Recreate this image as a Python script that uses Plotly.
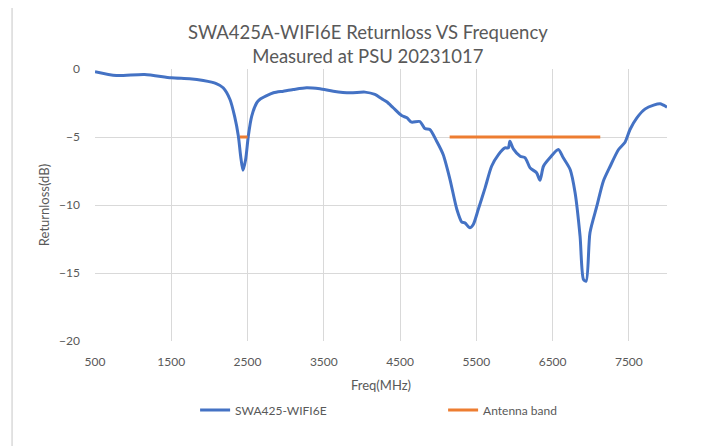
import plotly.graph_objects as go

# Datos
freq_mhz = [500, 780, 1150, 1500, 1740, 1920, 2090, 2180, 2270, 2330,
            2380, 2410, 2440, 2475, 2510, 2555, 2620, 2660, 2840, 2970,
            3100, 3275, 3450, 3625, 3845, 4040, 4170, 4260, 4325, 4410,
            4520, 4590, 4650, 4760, 4825, 4890, 4980, 5065, 5155, 5245,
            5310, 5350, 5415, 5460, 5525, 5615, 5700, 5790, 5875, 5920,
            5940, 5985, 6075, 6140, 6205, 6290, 6335, 6380, 6465, 6575,
            6640, 6730, 6795, 6860, 6905, 6940, 6990, 7080, 7165, 7255,
            7365, 7450, 7515, 7605, 7715, 7825, 7910, 8000]
returnloss_db = [-0.2, -0.48, -0.4, -0.65, -0.72, -0.85, -1.07, -1.38, -2.24, -3.47,
                 -4.94, -6.41, -7.44, -6.65, -4.94, -3.47, -2.49, -2.24, -1.75, -1.63,
                 -1.51, -1.38, -1.46, -1.63, -1.75, -1.70, -1.87, -2.19, -2.41, -2.85,
                 -3.42, -3.59, -3.91, -3.86, -4.38, -4.45, -5.31, -6.29, -8.13, -10.33,
                 -11.26, -11.31, -11.68, -11.43, -10.33, -8.74, -7.15, -6.29, -5.80, -5.80,
                 -5.31, -5.87, -6.41, -6.53, -7.27, -7.63, -8.18, -7.15, -6.53, -5.92,
                 -6.53, -7.39, -9.10, -12.29, -15.48, -15.60, -12.04, -10.09, -8.25, -7.15,
                 -5.92, -5.38, -4.45, -3.59, -2.93, -2.66, -2.56, -2.81]

band_freq = [2400, 2500, None, 5150, 7125]
band_db = [-5, -5, None, -5, -5]

x_ticks = [500, 1500, 2500, 3500, 4500, 5500, 6500, 7500]
y_ticks = [0, -5, -10, -15, -20]

FONT = "Lato"
GRIS = "#595959"
GRID = "#d9d9d9"

fig = go.Figure()
fig.add_trace(go.Scatter(
    x=freq_mhz, y=returnloss_db, mode="lines", name="SWA425-WIFI6E",
    line=dict(color="#4472c4", width=3, shape="spline", smoothing=0.7)))
fig.add_trace(go.Scatter(
    x=band_freq, y=band_db, mode="lines", name="Antenna band",
    line=dict(color="#ed7d31", width=3)))

# la pagina tiene 8px de margen en el body: se compensa en l y t
fig.update_layout(
    template="none",
    width=714, height=446,
    margin=dict(l=87, r=55, t=61, b=113, autoexpand=False),
    paper_bgcolor="white", plot_bgcolor="white",
    font=dict(family=FONT, color=GRIS, size=12),
    title=dict(text="SWA425A-WIFI6E Returnloss VS Frequency<br>Measured at PSU 20231017",
               x=0.477, xref="paper", xanchor="center", y=0.93, yanchor="top",
               font=dict(family=FONT, size=18.5, color=GRIS)),
    showlegend=True,
    legend=dict(orientation="h", x=0.175, xanchor="left", y=-0.254, yanchor="middle",
                entrywidth=203, bgcolor="rgba(0,0,0,0)", font=dict(size=12, color=GRIS)),
    shapes=[
        dict(type="line", xref="paper", yref="paper", x0=-0.145, x1=-0.145, y0=-0.5, y1=1.3,
             line=dict(color=GRID, width=1.5)),
    ],
)
fig.update_xaxes(range=[500, 8000], tickmode="array", tickvals=x_ticks, showgrid=True,
                 gridcolor=GRID, gridwidth=1, zeroline=False, showline=False, ticks="",
                 automargin=False, ticklabelstandoff=12,
                 title=dict(text="Freq(MHz)", font=dict(size=13, color=GRIS), standoff=12))
fig.update_yaxes(range=[-20, 0], tickmode="array", tickvals=y_ticks, showgrid=True,
                 gridcolor=GRID, gridwidth=1, zeroline=False, showline=False, ticks="",
                 automargin=False, ticklabelstandoff=14,
                 title=dict(text="Returnloss(dB)", font=dict(size=13, color=GRIS), standoff=6))

fig.write_html("out.html")
